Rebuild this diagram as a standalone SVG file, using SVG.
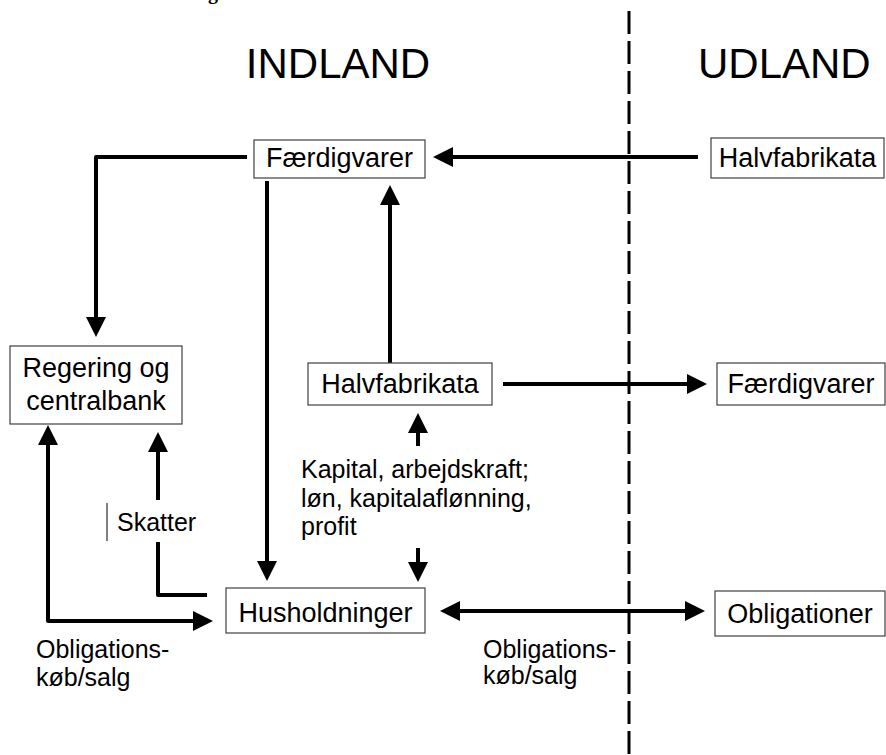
<svg xmlns="http://www.w3.org/2000/svg" width="886" height="755" viewBox="0 0 886 755">
<style>
.box{fill:#fff;stroke:#404040;stroke-width:1.2}
.bt{font-family:"Liberation Sans",Arial,sans-serif;font-size:27px;fill:#000;text-anchor:middle}
.lb{font-family:"Liberation Sans",Arial,sans-serif;font-size:25px;fill:#000}
.hd{font-family:"Liberation Sans",Arial,sans-serif;font-size:42px;fill:#000}
.c{fill:none;stroke:#000;stroke-width:4;stroke-linejoin:round}
</style>
<defs>
<marker id="ah" viewBox="0 0 20 20" refX="6" refY="10" markerWidth="20" markerHeight="20" markerUnits="userSpaceOnUse" orient="auto-start-reverse"><path d="M0,0 L20,10 L0,20 z" fill="#000"/></marker>
</defs>
<rect width="886" height="755" fill="#fff"/>
<text x="208" y="-1" font-family="Liberation Serif,serif" font-weight="bold" font-size="20">g</text>
<line x1="629" y1="11" x2="629" y2="755" stroke="#000" stroke-width="3" stroke-dasharray="23 7"/>
<text class="hd" x="338" y="78" text-anchor="middle">INDLAND</text>
<text class="hd" x="698" y="78">UDLAND</text>
<g id="connectors">
<path class="c" d="M698,157 H447" marker-end="url(#ah)"/>
<path class="c" d="M247,157 H96 V323" marker-end="url(#ah)"/>
<path class="c" d="M267,181 V567" marker-end="url(#ah)"/>
<path class="c" d="M390,370 V199" marker-end="url(#ah)"/>
<path class="c" d="M503,384 H693" marker-end="url(#ah)"/>
<path class="c" d="M418,446 V427" marker-end="url(#ah)"/>
<path class="c" d="M418,548 V568" marker-end="url(#ah)"/>
<path class="c" d="M454,611 H691" marker-start="url(#ah)" marker-end="url(#ah)"/>
<path class="c" d="M48,439 V621 H199" marker-start="url(#ah)" marker-end="url(#ah)"/>
<path class="c" d="M207,595 H158 V542"/>
<path class="c" d="M158,500 V446" marker-end="url(#ah)"/>
<line x1="107" y1="503" x2="107" y2="541" stroke="#000" stroke-width="1"/>
<text class="lb" x="117" y="531">Skatter</text>
<text class="lb" x="301" y="478">Kapital, arbejdskraft;</text>
<text class="lb" x="301" y="507">løn, kapitalaflønning,</text>
<text class="lb" x="301" y="535">profit</text>
<text class="lb" x="483" y="658">Obligations-</text>
<text class="lb" x="483" y="684">køb/salg</text>
<text class="lb" x="36" y="658">Obligations-</text>
<text class="lb" x="36" y="686">køb/salg</text>
</g>
<g id="faerdigvarer-ind"><rect class="box" x="254" y="140" width="171" height="38"/><text class="bt" x="339.5" y="167">Færdigvarer</text></g>
<g id="halvfabrikata-ud"><rect class="box" x="711" y="138" width="173" height="40"/><text class="bt" x="797.5" y="167">Halvfabrikata</text></g>
<g id="regering"><rect class="box" x="10" y="346" width="172" height="78"/><text class="bt" x="96" y="377">Regering og</text><text class="bt" x="96" y="410">centralbank</text></g>
<g id="halvfabrikata-ind"><rect class="box" x="308" y="363" width="184" height="42"/><text class="bt" x="400" y="393">Halvfabrikata</text></g>
<g id="faerdigvarer-ud"><rect class="box" x="717" y="363" width="168" height="42"/><text class="bt" x="801" y="393">Færdigvarer</text></g>
<g id="husholdninger"><rect class="box" x="226" y="588" width="199" height="45"/><text class="bt" x="325.5" y="622">Husholdninger</text></g>
<g id="obligationer"><rect class="box" x="715" y="591" width="170" height="45"/><text class="bt" x="800" y="623">Obligationer</text></g>
</svg>
